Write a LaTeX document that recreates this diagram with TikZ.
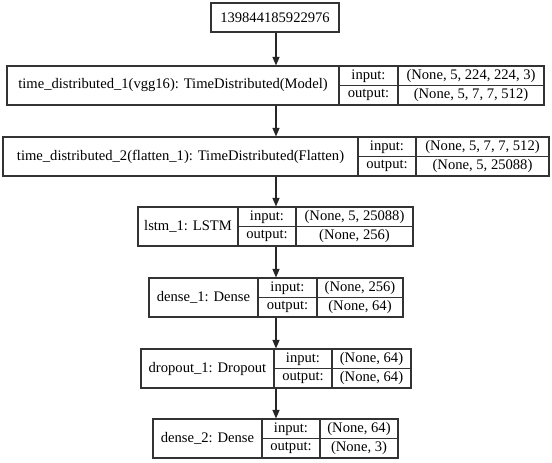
\documentclass[tikz,border=0pt]{standalone}
\usepackage{fontspec}
\setmainfont{Liberation Serif}
\usetikzlibrary{arrows, arrows.meta}

\begin{document}
\begin{tikzpicture}[x=1pt, y=-1pt, >={Triangle[length=8.5pt,width=7pt]}]
    \tikzstyle{cell}=[draw=black!80, rectangle, inner sep=0pt, line width=1.1pt, font=\fontsize{14.6}{16}\selectfont]
    \tikzstyle{flow}=[->, draw=black!85, line width=1.1pt]
  \useasboundingbox (0,0) rectangle (552,463);
  \coordinate (axis) at (276,0); % arrow column

  \node (inp) at (275,17.5) [cell, minimum width=128pt, minimum height=29pt] {139844185922976};

  %% time_distributed_1
  \node (tdo) at (173,85.5) [cell, minimum width=332pt, minimum height=39pt] {time\_distributed\_1(vgg16): TimeDistributed(Model)};
  \node (tdoi) at (368.5,75.75) [cell, minimum width=59pt, minimum height=19.5pt] {input:};
  \node (tdoo) at (368.5,95.25) [cell, minimum width=59pt, minimum height=19.5pt] {output:};
  \node (tdoiv) at (471,75.75) [cell, minimum width=146pt, minimum height=19.5pt] {(None, 5, 224, 224, 3)};
  \node (tdoov) at (471,95.25) [cell, minimum width=146pt, minimum height=19.5pt] {(None, 5, 7, 7, 512)};

  %% time_distributed_2
  \node (tdt) at (180.5,156.5) [cell, minimum width=355pt, minimum height=39pt] {time\_distributed\_2(flatten\_1): TimeDistributed(Flatten)};
  \node (tdti) at (387,146.75) [cell, minimum width=58pt, minimum height=19.5pt] {input:};
  \node (tdto) at (387,166.25) [cell, minimum width=58pt, minimum height=19.5pt] {output:};
  \node (tdtiv) at (482.5,146.75) [cell, minimum width=133pt, minimum height=19.5pt] {(None, 5, 7, 7, 512)};
  \node (tdtov) at (482.5,166.25) [cell, minimum width=133pt, minimum height=19.5pt] {(None, 5, 25088)};

  %% lstm_1
  \node (lstm) at (188,226.5) [cell, minimum width=100pt, minimum height=39pt] {lstm\_1: LSTM};
  \node (lstmi) at (267,216.75) [cell, minimum width=58pt, minimum height=19.5pt] {input:};
  \node (lstmo) at (267,236.25) [cell, minimum width=58pt, minimum height=19.5pt] {output:};
  \node (lstmiv) at (354.5,216.75) [cell, minimum width=117pt, minimum height=19.5pt] {(None, 5, 25088)};
  \node (lstmov) at (354.5,236.25) [cell, minimum width=117pt, minimum height=19.5pt] {(None, 256)};

  %% dense_1
  \node (dso) at (203.5,297.5) [cell, minimum width=109pt, minimum height=39pt] {dense\_1: Dense};
  \node (dsoi) at (287.5,287.75) [cell, minimum width=59pt, minimum height=19.5pt] {input:};
  \node (dsoo) at (287.5,307.25) [cell, minimum width=59pt, minimum height=19.5pt] {output:};
  \node (dsoiv) at (360,287.75) [cell, minimum width=86pt, minimum height=19.5pt] {(None, 256)};
  \node (dsoov) at (360,307.25) [cell, minimum width=86pt, minimum height=19.5pt] {(None, 64)};

  %% dropout_1
  \node (drp) at (207.5,368.5) [cell, minimum width=133pt, minimum height=39pt] {dropout\_1: Dropout};
  \node (drpi) at (303,358.75) [cell, minimum width=58pt, minimum height=19.5pt] {input:};
  \node (drpo) at (303,378.25) [cell, minimum width=58pt, minimum height=19.5pt] {output:};
  \node (drpiv) at (371.5,358.75) [cell, minimum width=79pt, minimum height=19.5pt] {(None, 64)};
  \node (drpov) at (371.5,378.25) [cell, minimum width=79pt, minimum height=19.5pt] {(None, 64)};

  %% dense_2
  \node (dst) at (207.5,438.5) [cell, minimum width=109pt, minimum height=39pt] {dense\_2: Dense};
  \node (dsti) at (291,428.75) [cell, minimum width=58pt, minimum height=19.5pt] {input:};
  \node (dsto) at (291,448.25) [cell, minimum width=58pt, minimum height=19.5pt] {output:};
  \node (dstiv) at (359,428.75) [cell, minimum width=78pt, minimum height=19.5pt] {(None, 64)};
  \node (dstov) at (359,448.25) [cell, minimum width=78pt, minimum height=19.5pt] {(None, 3)};

  \draw[flow] (axis |- inp.south) to (axis |- tdo.north);
  \draw[flow] (axis |- tdo.south) to (axis |- tdt.north);
  \draw[flow] (axis |- tdt.south) to (axis |- lstm.north);
  \draw[flow] (axis |- lstm.south) to (axis |- dso.north);
  \draw[flow] (axis |- dso.south) to (axis |- drp.north);
  \draw[flow] (axis |- drp.south) to (axis |- dst.north);
\end{tikzpicture}
\end{document}
